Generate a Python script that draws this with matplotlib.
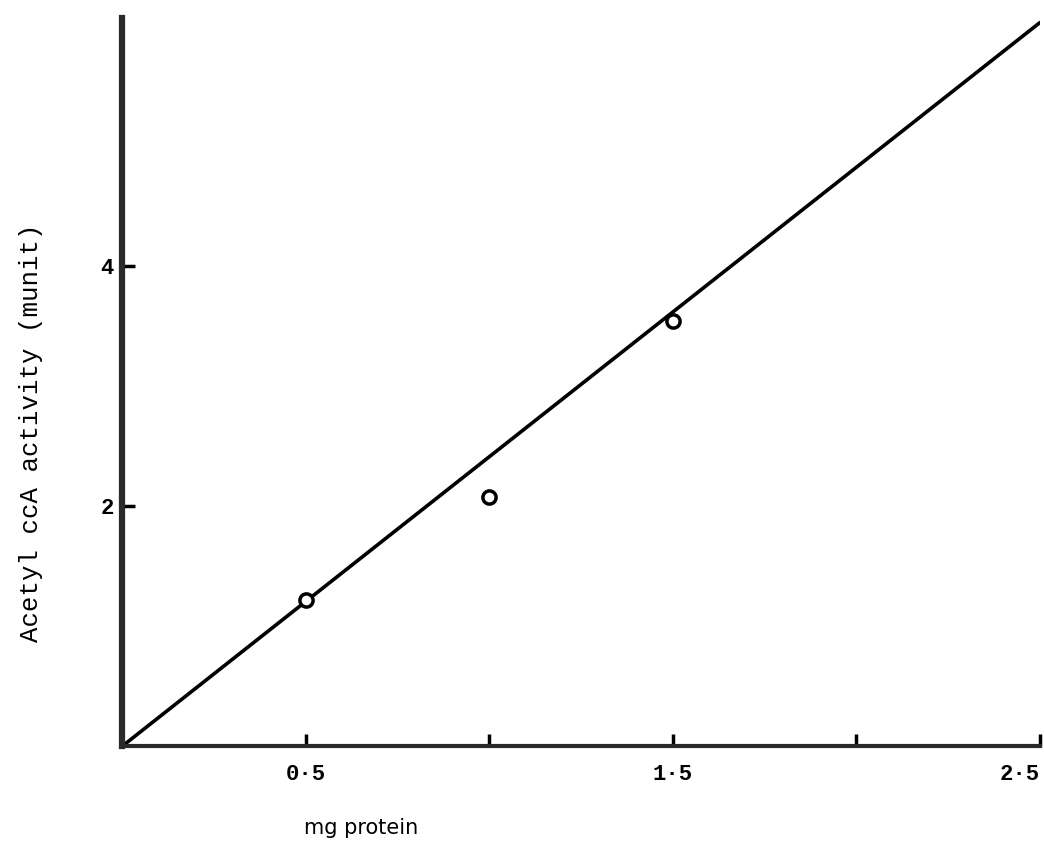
import matplotlib.pyplot as plt

# protein (mg) vs acetyl coA activity (munit)
proteina = [0.5, 1.0, 1.5]
atividade = [1.22, 2.08, 3.54]

# linha de ajuste pela origem
reta_x = [0.0, 2.5]
reta_y = [0.0, 6.03]

xticks = [0.5, 1.0, 1.5, 2.0, 2.5]
xrotulos = ['0·5', '', '1·5', '', '2·5']
yticks = [2, 4]
yrotulos = ['2', '4']

fig = plt.figure(figsize=(10.44, 8.49), dpi=100)
ax = fig.add_axes([0.117, 0.121, 0.879, 0.858])

ax.plot(reta_x, reta_y, color='black', linewidth=2.6, solid_capstyle='round')
ax.plot(proteina, atividade, 'o', markersize=9.5, markerfacecolor='white',
        markeredgecolor='black', markeredgewidth=2.5)

ax.set_xlim(0, 2.5)
ax.set_ylim(0, 6.07)

for lado in ['top', 'right']:
    ax.spines[lado].set_visible(False)
ax.spines['left'].set_linewidth(4.5)
ax.spines['bottom'].set_linewidth(3)
for lado in ['left', 'bottom']:
    ax.spines[lado].set_color('#2a2a2a')

ax.set_xticks(xticks)
ax.set_xticklabels(xrotulos, fontsize=16, fontweight='bold', family='Liberation Mono')
ax.set_yticks(yticks)
ax.set_yticklabels(yrotulos, fontsize=16, fontweight='bold', family='Liberation Mono')
ax.tick_params(axis='both', direction='in', length=9, width=2.5)
ax.tick_params(axis='x', pad=13)
ax.tick_params(axis='y', pad=6)

# o ultimo rotulo fica alinhado a direita para nao sair da figura
ax.get_xticklabels()[-1].set_horizontalalignment('right')

fig.text(0.346, 0.025, 'mg protein', fontsize=15, ha='center', va='center',
         family='DejaVu Sans')
fig.text(0.03, 0.49, 'Acetyl ccA activity (munit)', fontsize=18.5, rotation=90,
         ha='center', va='center', family='Liberation Mono')

plt.savefig('out.png', dpi=100)
